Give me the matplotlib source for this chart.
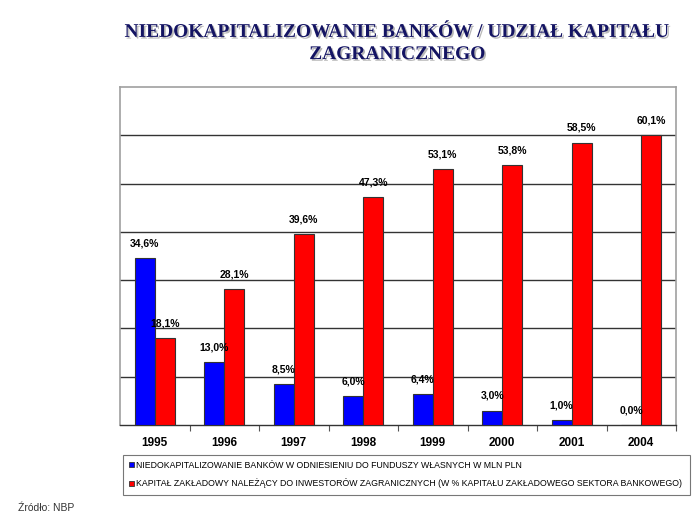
import matplotlib.pyplot as plt
import matplotlib.patheffects as pe
from matplotlib.patches import Patch
import numpy as np

lata = ["1995", "1996", "1997", "1998", "1999", "2000", "2001", "2004"]
niedokapitalizowanie = [34.6, 13.0, 8.5, 6.0, 6.4, 3.0, 1.0, 0.0]
kapital_zagraniczny = [18.1, 28.1, 39.6, 47.3, 53.1, 53.8, 58.5, 60.1]

tytul = "NIEDOKAPITALIZOWANIE BANKÓW / UDZIAŁ KAPITAŁU\nZAGRANICZNEGO"
legenda = [
    "NIEDOKAPITALIZOWANIE BANKÓW W ODNIESIENIU DO FUNDUSZY WŁASNYCH W MLN PLN",
    "KAPITAŁ ZAKŁADOWY NALEŻĄCY DO INWESTORÓW ZAGRANICZNYCH (W % KAPITAŁU ZAKŁADOWEGO SEKTORA BANKOWEGO)",
]
zrodlo = "Źródło: NBP"

waski = ["Liberation Sans Narrow", "Liberation Sans", "DejaVu Sans"]
niebieski = "#0000ff"
czerwony = "#ff0000"

fig = plt.figure(figsize=(7, 5.25), dpi=100)
ax = fig.add_axes([120 / 700, 100 / 525, 556 / 700, 338 / 525])

x = np.arange(len(lata))
szer = 0.29
s1 = ax.bar(x - szer / 2, niedokapitalizowanie, szer, color=niebieski,
            edgecolor="#333333", linewidth=0.8, zorder=3)
s2 = ax.bar(x + szer / 2, kapital_zagraniczny, szer, color=czerwony,
            edgecolor="#333333", linewidth=0.8, zorder=3)

for seria in (s1, s2):
    for prost in seria:
        h = prost.get_height()
        ax.annotate(f"{h:.1f}%".replace(".", ","),
                    (prost.get_x() + prost.get_width() / 2, h),
                    xytext=(0, 10.5), textcoords="offset points",
                    ha="center", va="center", fontsize=7.5,
                    fontweight="bold", family=waski, zorder=4)

ax.set_xlim(-0.5, len(lata) - 0.5)
ax.set_ylim(0, 70)
ax.set_yticks(np.arange(10, 70, 10))
ax.yaxis.grid(True, color="#333333", linewidth=1.0, zorder=1)
ax.tick_params(axis="y", left=False, labelleft=False)

ax.set_xticks(x)
ax.set_xticklabels(lata, fontsize=8.5, fontweight="bold", family="Liberation Sans")
ax.tick_params(axis="x", which="major", length=0, pad=9)
ax.set_xticks(np.arange(0.5, len(lata), 1), minor=True)
ax.tick_params(axis="x", which="minor", length=4, color="#555555", width=0.8)

for strona in ("left", "top", "right"):
    ax.spines[strona].set_color("#a0a0a0")
    ax.spines[strona].set_linewidth(1.2)
ax.spines["bottom"].set_color("#333333")
ax.spines["bottom"].set_linewidth(1.0)

fig.text(0.568, 1 - 43.5 / 525, tytul, ha="center", va="center", fontsize=14,
         fontweight="bold", family="Liberation Serif", color="#141463",
         linespacing=1.4,
         path_effects=[pe.withSimplePatchShadow(offset=(1.2, -1.2),
                                                shadow_rgbFace="#9a9a9a",
                                                alpha=0.7)])

uchwyty = [Patch(facecolor=niebieski, edgecolor="#333333", linewidth=0.6),
           Patch(facecolor=czerwony, edgecolor="#333333", linewidth=0.6)]
leg = fig.legend(uchwyty, legenda, loc="center left",
                 bbox_to_anchor=(123 / 700, 28 / 525, 567 / 700, 45 / 525),
                 mode="expand", ncol=1, frameon=True, fancybox=False,
                 handlelength=0.6, handleheight=0.6, handletextpad=0.2,
                 labelspacing=1.0, borderaxespad=0, borderpad=0.7,
                 prop={"family": waski, "size": 6.3})
leg.get_frame().set_edgecolor("#555555")
leg.get_frame().set_linewidth(0.8)

fig.text(18 / 700, 1 - 508 / 525, zrodlo, ha="left", va="center",
         fontsize=7.5, family="Liberation Sans", color="#333333")

fig.savefig("out.png", dpi=100)
